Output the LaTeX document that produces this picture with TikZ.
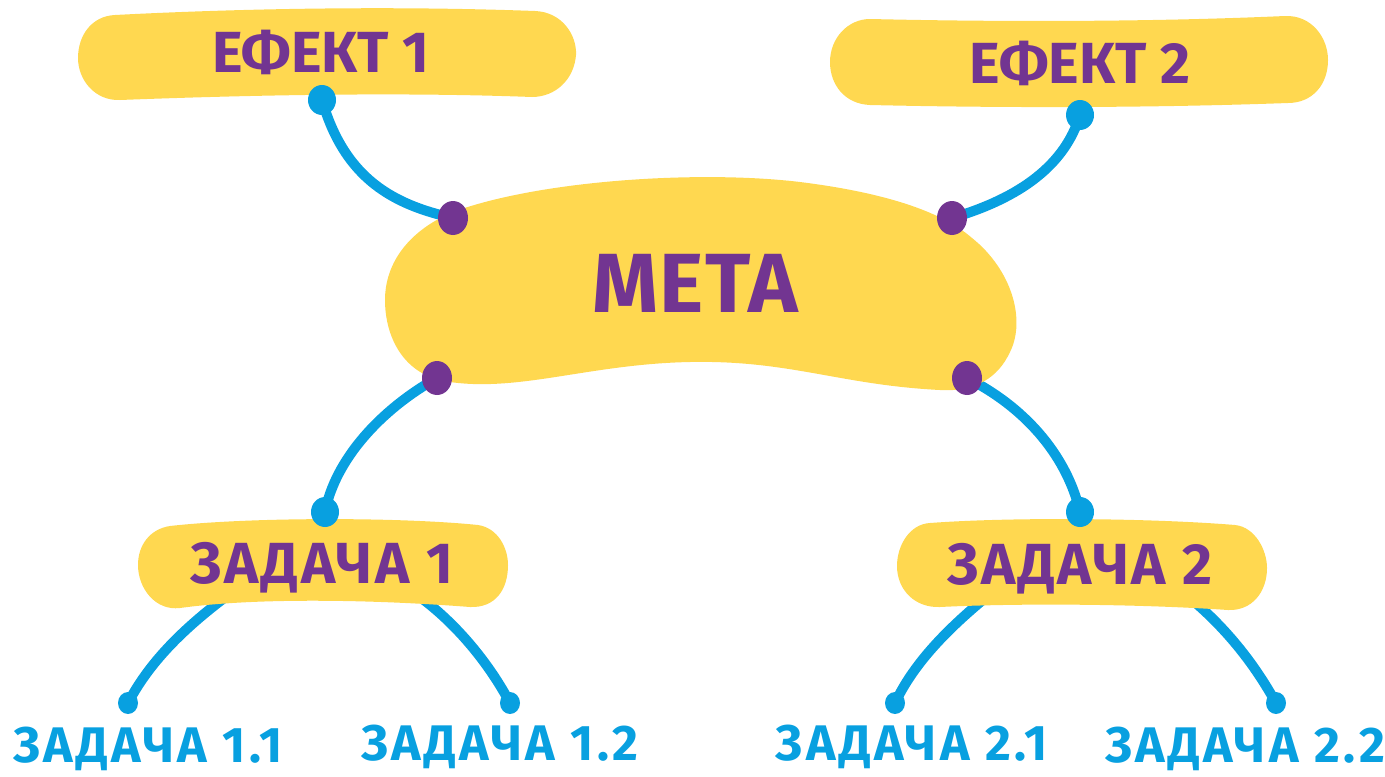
\documentclass[tikz,border=0pt]{standalone}
\usepackage{fontspec}
\setmainfont{Fira Sans}
\definecolor{blobyellow}{HTML}{FFD850}
\definecolor{txtpurple}{HTML}{723591}
\definecolor{linkblue}{HTML}{08A0E0}
\begin{document}
\begin{tikzpicture}[x=0.5pt,y=-0.5pt,
  link/.style={draw=linkblue,line width=5pt,line cap=round},
  blob/.style={fill=blobyellow},
  pdot/.style={fill=txtpurple},
  bdot/.style={fill=linkblue},
  maintxt/.style={text=txtpurple,font=\bfseries\fontsize{42}{42}\selectfont\addfontfeatures{LetterSpace=2},inner sep=0pt,anchor=base},
  boxtxt/.style={text=txtpurple,font=\bfseries\fontsize{29}{29}\selectfont,inner sep=0pt,anchor=base},
  tasktxt/.style={text=txtpurple,font=\bfseries\fontsize{29}{29}\selectfont\addfontfeatures{LetterSpace=5},inner sep=0pt,anchor=base},
  subtxt/.style={text=linkblue,font=\bfseries\fontsize{25}{25}\selectfont\addfontfeatures{LetterSpace=7},inner sep=0pt,anchor=base}]
\useasboundingbox (0,0) rectangle (1385,776);
% connector end points
\coordinate (e1) at (322,100);
\coordinate (e2) at (1080,115);
\coordinate (mtl) at (453,218);
\coordinate (mtr) at (952,218);
\coordinate (mbl) at (437,378);
\coordinate (mbr) at (967,378);
\coordinate (z1) at (325,512);
\coordinate (z2) at (1080,512);
\coordinate (z1l) at (235,590);
\coordinate (z1r) at (410,590);
\coordinate (z2l) at (995,590);
\coordinate (z2r) at (1180,590);
\coordinate (s11) at (128,703);
\coordinate (s12) at (510,703);
\coordinate (s21) at (895,703);
\coordinate (s22) at (1276,703);
% connectors
\draw[link] (e1) .. controls (345,180) and (395,205) .. (mtl);
\draw[link] (mtr) .. controls (1020,198) and (1065,165) .. (e2);
\draw[link] (mbl) .. controls (380,410) and (335,460) .. (z1);
\draw[link] (mbr) .. controls (1030,410) and (1068,460) .. (z2);
\draw[link] (z1l) .. controls (180,630) and (148,665) .. (s11);
\draw[link] (z1r) .. controls (455,620) and (490,665) .. (s12);
\draw[link] (z2l) .. controls (945,630) and (913,665) .. (s21);
\draw[link] (z2r) .. controls (1225,625) and (1255,665) .. (s22);
% yellow shapes
\path[blob] (115,15) .. controls (250,8) and (400,6) .. (535,11)
  .. controls (562,12) and (577,35) .. (576,55)
  .. controls (574,80) and (555,97) .. (532,97)
  .. controls (400,92) and (250,95) .. (120,100)
  .. controls (95,101) and (78,80) .. (78,58)
  .. controls (78,35) and (92,16) .. (115,15) -- cycle;
\path[blob] (870,19) .. controls (1000,22) and (1150,22) .. (1285,16)
  .. controls (1312,15) and (1328,38) .. (1328,60)
  .. controls (1328,85) and (1312,103) .. (1288,103)
  .. controls (1150,108) and (1000,108) .. (870,105)
  .. controls (845,104) and (830,85) .. (830,62)
  .. controls (830,38) and (848,19) .. (870,19) -- cycle;
\path[blob] (453,212) .. controls (540,180) and (700,170) .. (800,182)
  .. controls (880,192) and (940,210) .. (972,238)
  .. controls (1012,270) and (1026,320) .. (1010,352)
  .. controls (998,378) and (975,392) .. (940,390)
  .. controls (840,385) and (790,360) .. (690,362)
  .. controls (590,364) and (520,392) .. (450,382)
  .. controls (402,376) and (385,335) .. (385,300)
  .. controls (385,262) and (410,230) .. (453,212) -- cycle;
\path[blob] (170,526) .. controls (250,517) and (400,517) .. (478,525)
  .. controls (498,528) and (508,548) .. (508,565)
  .. controls (508,590) and (495,608) .. (470,607)
  .. controls (380,600) and (260,597) .. (180,608)
  .. controls (155,611) and (138,588) .. (138,565)
  .. controls (138,545) and (150,529) .. (170,526) -- cycle;
\path[blob] (930,523) .. controls (1010,517) and (1150,518) .. (1235,525)
  .. controls (1255,527) and (1267,550) .. (1267,568)
  .. controls (1267,592) and (1252,611) .. (1228,610)
  .. controls (1140,604) and (1020,603) .. (940,607)
  .. controls (915,608) and (897,590) .. (897,566)
  .. controls (897,545) and (910,524) .. (930,523) -- cycle;
% dots
\path[bdot] (e1) ellipse[x radius=14,y radius=15];
\path[bdot] (e2) ellipse[x radius=14,y radius=15];
\path[bdot] (z1) ellipse[x radius=14,y radius=15];
\path[bdot] (z2) ellipse[x radius=14,y radius=15];
\path[pdot] (mtl) ellipse[x radius=15,y radius=17];
\path[pdot] (mtr) ellipse[x radius=15,y radius=17];
\path[pdot] (mbl) ellipse[x radius=15,y radius=17];
\path[pdot] (mbr) ellipse[x radius=15,y radius=17];
\path[bdot] (s11) ellipse[x radius=10,y radius=11];
\path[bdot] (s12) ellipse[x radius=10,y radius=11];
\path[bdot] (s21) ellipse[x radius=10,y radius=11];
\path[bdot] (s22) ellipse[x radius=10,y radius=11];
% texts
\node[boxtxt] (ef1) at (321,72) {ЕФЕКТ 1};
\node[boxtxt] (ef2) at (1080,83) {ЕФЕКТ 2};
\node[maintxt] (meta) at (695,312) {МЕТА};
\node[tasktxt] (zd1) at (322,583) {ЗАДАЧА 1};
\node[tasktxt] (zd2) at (1080,584) {ЗАДАЧА 2};
\node[subtxt] (zd11) at (148,762) {ЗАДАЧА 1.1};
\node[subtxt] (zd12) at (500,760) {ЗАДАЧА 1.2};
\node[subtxt] (zd21) at (912,760) {ЗАДАЧА 2.1};
\node[subtxt] (zd22) at (1245,762) {ЗАДАЧА 2.2};
\end{tikzpicture}
\end{document}
